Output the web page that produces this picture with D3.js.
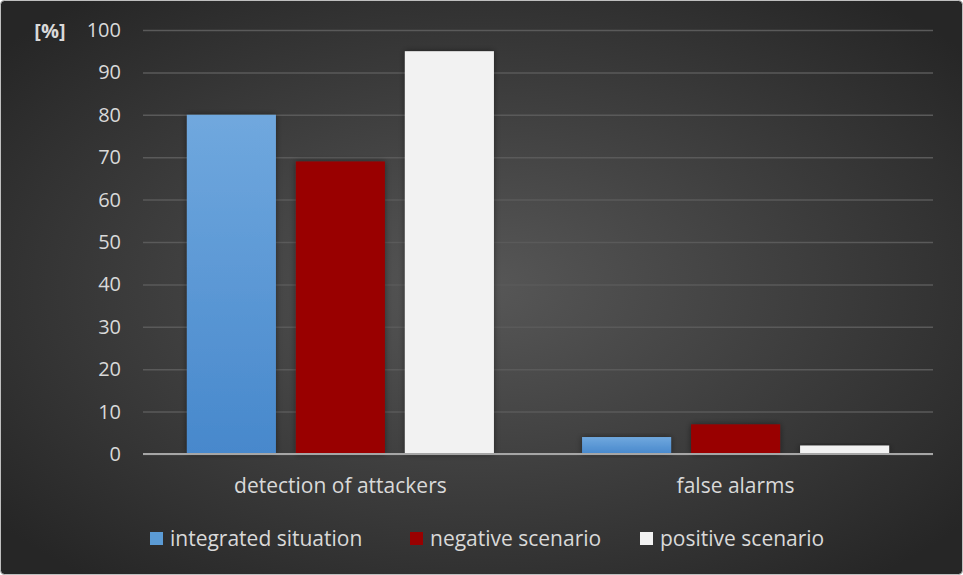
<!DOCTYPE html>
<html>
<head>
<meta charset="utf-8">
<script src="https://cdn.jsdelivr.net/npm/d3@7"></script>
<style>
  body { margin: 0; background: #fff; }
  text { font-family: "Open Sans", sans-serif; fill: #d9d9d9; }
</style>
</head>
<body>
<div id="chart"></div>
<script>
const width = 963;
const height = 575;

// data
const categories = ['detection of attackers', 'false alarms'];
const seriesNames = ['integrated situation', 'negative scenario', 'positive scenario'];
const integratedSituation = [80, 4];
const negativeScenario = [69, 7];
const positiveScenario = [95, 2];
const yTicks = [0, 10, 20, 30, 40, 50, 60, 70, 80, 90, 100];

const seriesValues = [integratedSituation, negativeScenario, positiveScenario];
const colors = ['url(#blueGrad)', '#990000', '#f2f2f2'];
const legendColors = ['#5b9bd5', '#990000', '#f2f2f2'];

const plot = { left: 143, right: 933, top: 30, bottom: 454 };

const svg = d3.select('#chart')
  .append('svg')
    .attr('width', width)
    .attr('height', height);

const defs = svg.append('defs');

const bg = defs.append('radialGradient')
  .attr('id', 'bgGrad')
  .attr('cx', '50%').attr('cy', '50%').attr('r', '65%');
bg.append('stop').attr('offset', '0%').attr('stop-color', '#575757');
bg.append('stop').attr('offset', '100%').attr('stop-color', '#262626');

const blue = defs.append('linearGradient')
  .attr('id', 'blueGrad')
  .attr('x1', 0).attr('y1', 0).attr('x2', 0).attr('y2', 1);
blue.append('stop').attr('offset', '0%').attr('stop-color', '#70a8de');
blue.append('stop').attr('offset', '100%').attr('stop-color', '#4788cc');

const shadow = defs.append('filter')
  .attr('id', 'shadow')
  .attr('x', '-20%').attr('y', '-20%').attr('width', '140%').attr('height', '140%');
shadow.append('feDropShadow')
  .attr('dx', 0).attr('dy', 0)
  .attr('stdDeviation', 3)
  .attr('flood-color', '#000')
  .attr('flood-opacity', 0.45);

// background
svg.append('rect')
  .attr('x', 0.5).attr('y', 0.5)
  .attr('width', width - 1).attr('height', height - 1)
  .attr('rx', 4)
  .attr('fill', 'url(#bgGrad)')
  .attr('stroke', '#bfbfbf')
  .attr('stroke-width', 1);

// scales
const y = d3.scaleLinear().domain([0, 100]).range([plot.bottom, plot.top]);

const x0 = d3.scaleBand()
  .domain(categories)
  .range([plot.left, plot.right])
  .paddingInner(0.223)
  .paddingOuter(0.111);

const x1 = d3.scaleBand()
  .domain(seriesNames)
  .range([0, x0.bandwidth()])
  .paddingInner(0.183);

// grid + y labels
const yAxis = svg.append('g')
  .attr('transform', `translate(${plot.left}, 0)`)
  .call(d3.axisLeft(y).tickValues(yTicks).tickSize(-(plot.right - plot.left)).tickPadding(22));

yAxis.select('.domain').remove();
yAxis.selectAll('.tick line')
  .attr('stroke', '#5a5a5a')
  .attr('stroke-width', 1.5);
yAxis.selectAll('.tick text')
  .attr('font-size', 20)
  .style('fill', '#d9d9d9')
  .style('font-family', '"Open Sans", sans-serif');

svg.append('text')
  .attr('x', 50)
  .attr('y', y(100) + 8)
  .attr('text-anchor', 'middle')
  .attr('font-size', 20)
  .attr('font-weight', 'bold')
  .text('[%]');

// bars
const groups = svg.append('g')
  .selectAll('g')
  .data(categories)
  .join('g')
    .attr('transform', d => `translate(${x0(d)}, 0)`);

groups.selectAll('rect')
  .data((d, i) => seriesNames.map((s, j) => ({ series: s, j: j, value: seriesValues[j][i] })))
  .join('rect')
    .attr('x', d => x1(d.series))
    .attr('y', d => y(d.value))
    .attr('width', x1.bandwidth())
    .attr('height', d => y(0) - y(d.value))
    .attr('fill', d => colors[d.j])
    .attr('filter', 'url(#shadow)');

// baseline
svg.append('line')
  .attr('x1', plot.left).attr('x2', plot.right)
  .attr('y1', y(0)).attr('y2', y(0))
  .attr('stroke', '#a6a6a6')
  .attr('stroke-width', 2);

// category labels
svg.append('g')
  .selectAll('text')
  .data(categories)
  .join('text')
    .attr('x', d => x0(d) + x0.bandwidth() / 2)
    .attr('y', 493)
    .attr('text-anchor', 'middle')
    .attr('font-size', 21)
    .text(d => d);

// legend
const legendX = [150, 410, 640];
const legend = svg.append('g')
  .selectAll('g')
  .data(seriesNames)
  .join('g')
    .attr('transform', (d, i) => `translate(${legendX[i]}, 532)`);

legend.append('rect')
  .attr('width', 13)
  .attr('height', 13)
  .attr('fill', (d, i) => legendColors[i]);

legend.append('text')
  .attr('x', 20)
  .attr('y', 14)
  .attr('font-size', 21)
  .text(d => d);
</script>
</body>
</html>
